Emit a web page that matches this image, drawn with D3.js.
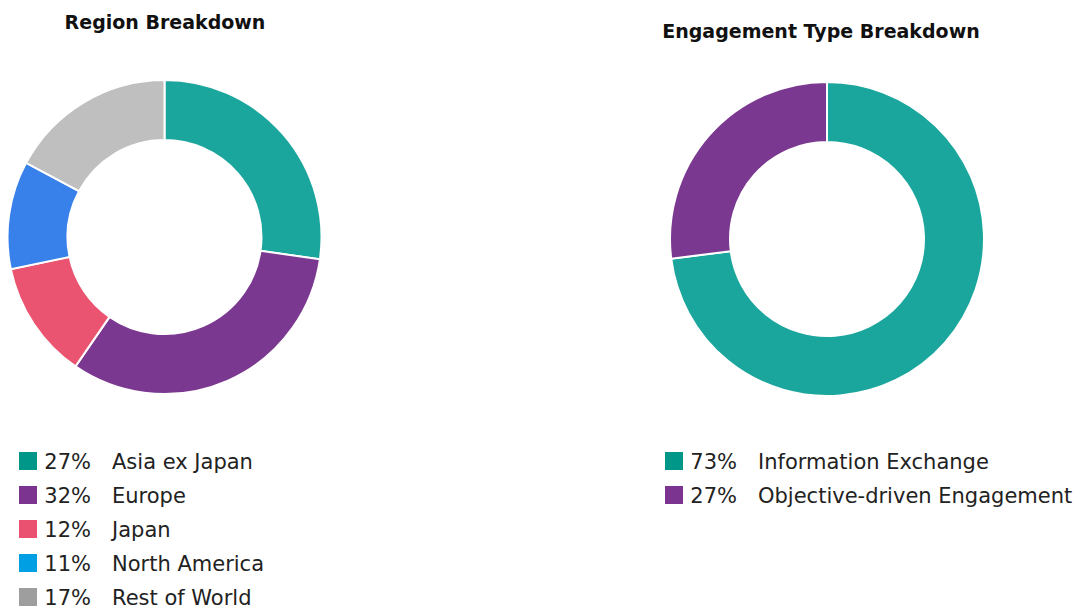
<!DOCTYPE html>
<html><head><meta charset="utf-8">
<script src="https://cdn.jsdelivr.net/npm/d3@7"></script>
<style>body{margin:0;background:#fff;} svg{display:block;font-family:"DejaVu Sans", sans-serif;}</style>
</head><body>
<svg id="c" width="1083" height="608"></svg>
<script>
const regionLabels = ["Asia ex Japan","Europe","Japan","North America","Rest of World"];
const regionValues = [27,32,12,11,17];
const regionSliceColors = ["#1BA69D","#7B3890","#EB5470","#3880EA","#BFBFBF"];
const regionLegendColors = ["#009688","#7B3590","#EA5070","#009FE3","#9E9E9E"];

const engLabels = ["Information Exchange","Objective-driven Engagement"];
const engValues = [73,27];
const engSliceColors = ["#1BA69D","#7B3890"];
const engLegendColors = ["#009688","#7B3590"];

const svg = d3.select("#c");

function donut(cfg){
  const g = svg.append("g");
  g.append("text").attr("x", cfg.titleX).attr("y", cfg.titleY).attr("text-anchor","middle")
    .attr("font-size", 19).attr("font-weight", 700).attr("fill","#111").text(cfg.title);
  const pie = d3.pie().sort(null).value(d=>d)(cfg.values);
  const arc = d3.arc().innerRadius(cfg.ri).outerRadius(cfg.ro);
  g.append("g").attr("transform",`translate(${cfg.cx},${cfg.cy})`)
    .selectAll("path").data(pie).join("path")
    .attr("d", arc).attr("fill",(d,i)=>cfg.colors[i])
    .attr("stroke","#fff").attr("stroke-width",2);
  const y = d3.scaleBand().domain(cfg.labels).range([cfg.legY, cfg.legY + 34*cfg.labels.length]);
  const lg = g.append("g");
  const rows = lg.selectAll("g").data(cfg.labels).join("g")
    .attr("transform", d=>`translate(0,${y(d)+17})`);
  rows.append("rect").attr("x", cfg.legX).attr("y",-9).attr("width",18).attr("height",18)
    .attr("fill",(d,i)=>cfg.legColors[i]);
  rows.append("text").attr("x", cfg.legX+72).attr("y",7.5).attr("text-anchor","end")
    .attr("font-size",21).attr("fill","#222").text((d,i)=>cfg.values[i]+"%");
  rows.append("text").attr("x", cfg.legX+93).attr("y",7.5)
    .attr("font-size",21).attr("fill","#222").text(d=>d);
}

donut({title:"Region Breakdown", titleX:165, titleY:29, cx:164.5, cy:237, ro:157, ri:97,
  values:regionValues, labels:regionLabels, colors:regionSliceColors, legColors:regionLegendColors,
  legX:19, legY:444});
donut({title:"Engagement Type Breakdown", titleX:821, titleY:38, cx:827, cy:239, ro:157, ri:97,
  values:engValues, labels:engLabels, colors:engSliceColors, legColors:engLegendColors,
  legX:665, legY:444});
</script>
</body></html>
